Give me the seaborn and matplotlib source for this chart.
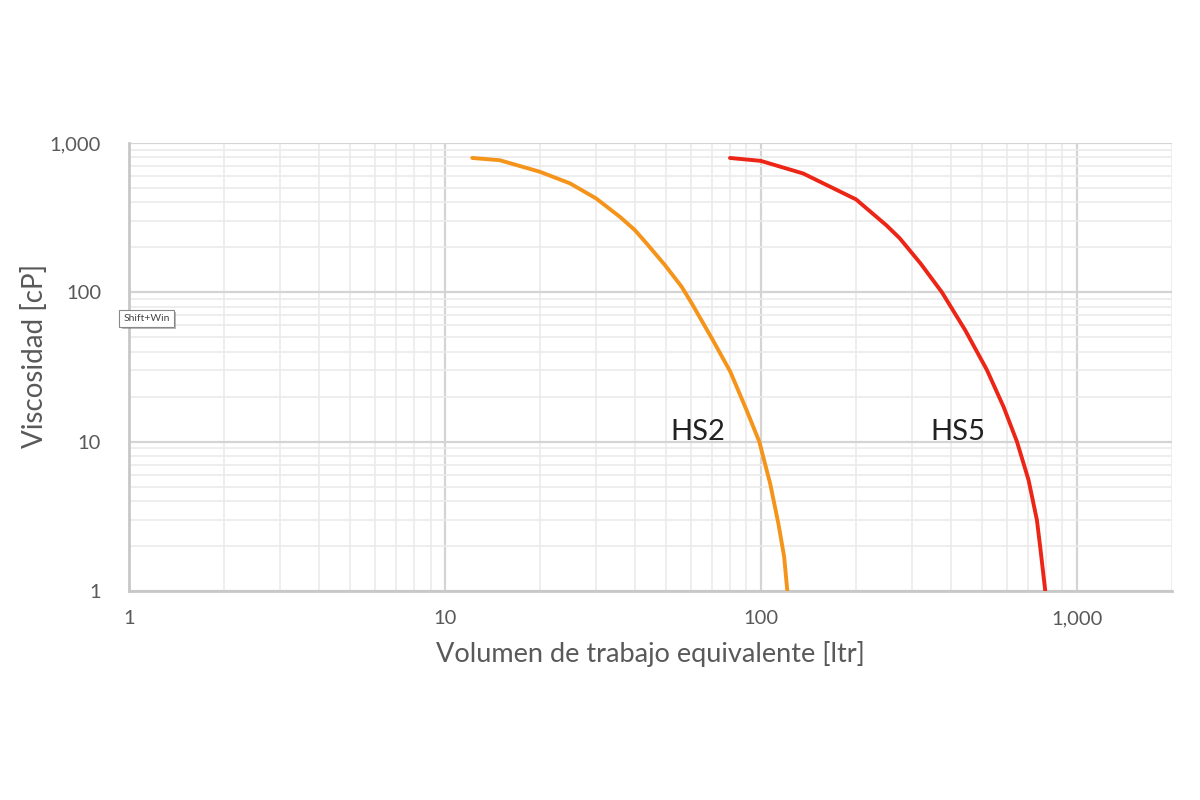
import numpy as np
import pandas as pd
import matplotlib
matplotlib.use("Agg")
import matplotlib.pyplot as plt
import matplotlib.patheffects as pe
import seaborn as sns
from matplotlib.ticker import FixedLocator, FixedFormatter, LogLocator, NullFormatter

# Curve values (log-log)
hs2_vol = [12.2, 14.9, 20.0, 24.9, 30.1, 35.8, 39.9, 43.5, 49.7, 56.1, 60, 70, 80, 90, 98.8, 106.9, 113.5, 118.4, 121.2]
hs2_visc = [794, 767, 641, 536, 425, 320, 261, 212, 152, 109, 86.4, 49, 29.4, 16.3, 10.0, 5.26, 2.84, 1.70, 1.0]

hs5_vol = [79.8, 99.9, 136, 200, 250, 275, 320, 374, 443, 519, 586, 646, 703, 747, 765, 794]
hs5_visc = [794, 759, 625, 419, 280, 230, 156, 100, 55.8, 30.2, 17.1, 10.0, 5.53, 2.99, 1.98, 1.0]

tick_vals = [1, 10, 100, 1000]
tick_labels = ["1", "10", "100", "1,000"]

sns.set_style("white")
plt.rcParams["font.family"] = ["Lato", "DejaVu Sans"]
text_color = "#595959"

fig = plt.figure(figsize=(12, 8), dpi=100)
ax = fig.add_axes([0.1075, 0.26125, 0.8692, 0.56])
ax.set_xscale("log")
ax.set_yscale("log")

hs2 = pd.DataFrame({"vol": hs2_vol, "visc": hs2_visc})
hs5 = pd.DataFrame({"vol": hs5_vol, "visc": hs5_visc})
sns.lineplot(data=hs2, x="vol", y="visc", color="#F5941A", linewidth=2.8, sort=False,
             ax=ax, zorder=3, solid_joinstyle="round")
sns.lineplot(data=hs5, x="vol", y="visc", color="#EC2516", linewidth=2.8, sort=False,
             ax=ax, zorder=3, solid_joinstyle="round")

ax.set_xlim(1, 2000)
ax.set_ylim(1, 1000)

ax.xaxis.set_major_locator(FixedLocator(tick_vals))
ax.xaxis.set_major_formatter(FixedFormatter(tick_labels))
ax.yaxis.set_major_locator(FixedLocator(tick_vals))
ax.yaxis.set_major_formatter(FixedFormatter(tick_labels))
ax.xaxis.set_minor_locator(LogLocator(base=10, subs=np.arange(2, 10)))
ax.yaxis.set_minor_locator(LogLocator(base=10, subs=np.arange(2, 10)))
ax.xaxis.set_minor_formatter(NullFormatter())
ax.yaxis.set_minor_formatter(NullFormatter())

ax.grid(which="major", color="#D4D4D4", linewidth=1.6)
ax.grid(which="minor", color="#EBEBEB", linewidth=1.2)
ax.set_axisbelow(True)
ax.tick_params(which="both", length=0, labelsize=14.5, colors=text_color)
ax.tick_params(axis="x", pad=14)
ax.tick_params(axis="y", pad=20)

for side in ["top", "right"]:
    ax.spines[side].set_visible(False)
for side in ["left", "bottom"]:
    ax.spines[side].set_color("#C8C8C8")
    ax.spines[side].set_linewidth(2)

ax.set_xlabel("Volumen de trabajo equivalente [ltr]", fontsize=19.5, color=text_color, labelpad=10)
ax.set_ylabel("Viscosidad [cP]", fontsize=20, color=text_color)
ax.yaxis.set_label_coords(-0.078, 0.525)

ax.text(63.2, 11.6, "HS2", fontsize=21, color="#222222", ha="center", va="center")
ax.text(421, 11.6, "HS5", fontsize=21, color="#222222", ha="center", va="center")

# small tooltip-like box seen in the reference
tip = fig.text(0.1030, 0.602, "Shift+Win", fontsize=7.5, color="#444444", ha="left", va="center",
               bbox=dict(boxstyle="square,pad=0.4", facecolor="white", edgecolor="#888888", linewidth=0.8))
tip.get_bbox_patch().set_path_effects([
    pe.withSimplePatchShadow(offset=(1.5, -1.5), shadow_rgbFace="#777777", alpha=0.5)])

fig.savefig("out.png", dpi=100)
